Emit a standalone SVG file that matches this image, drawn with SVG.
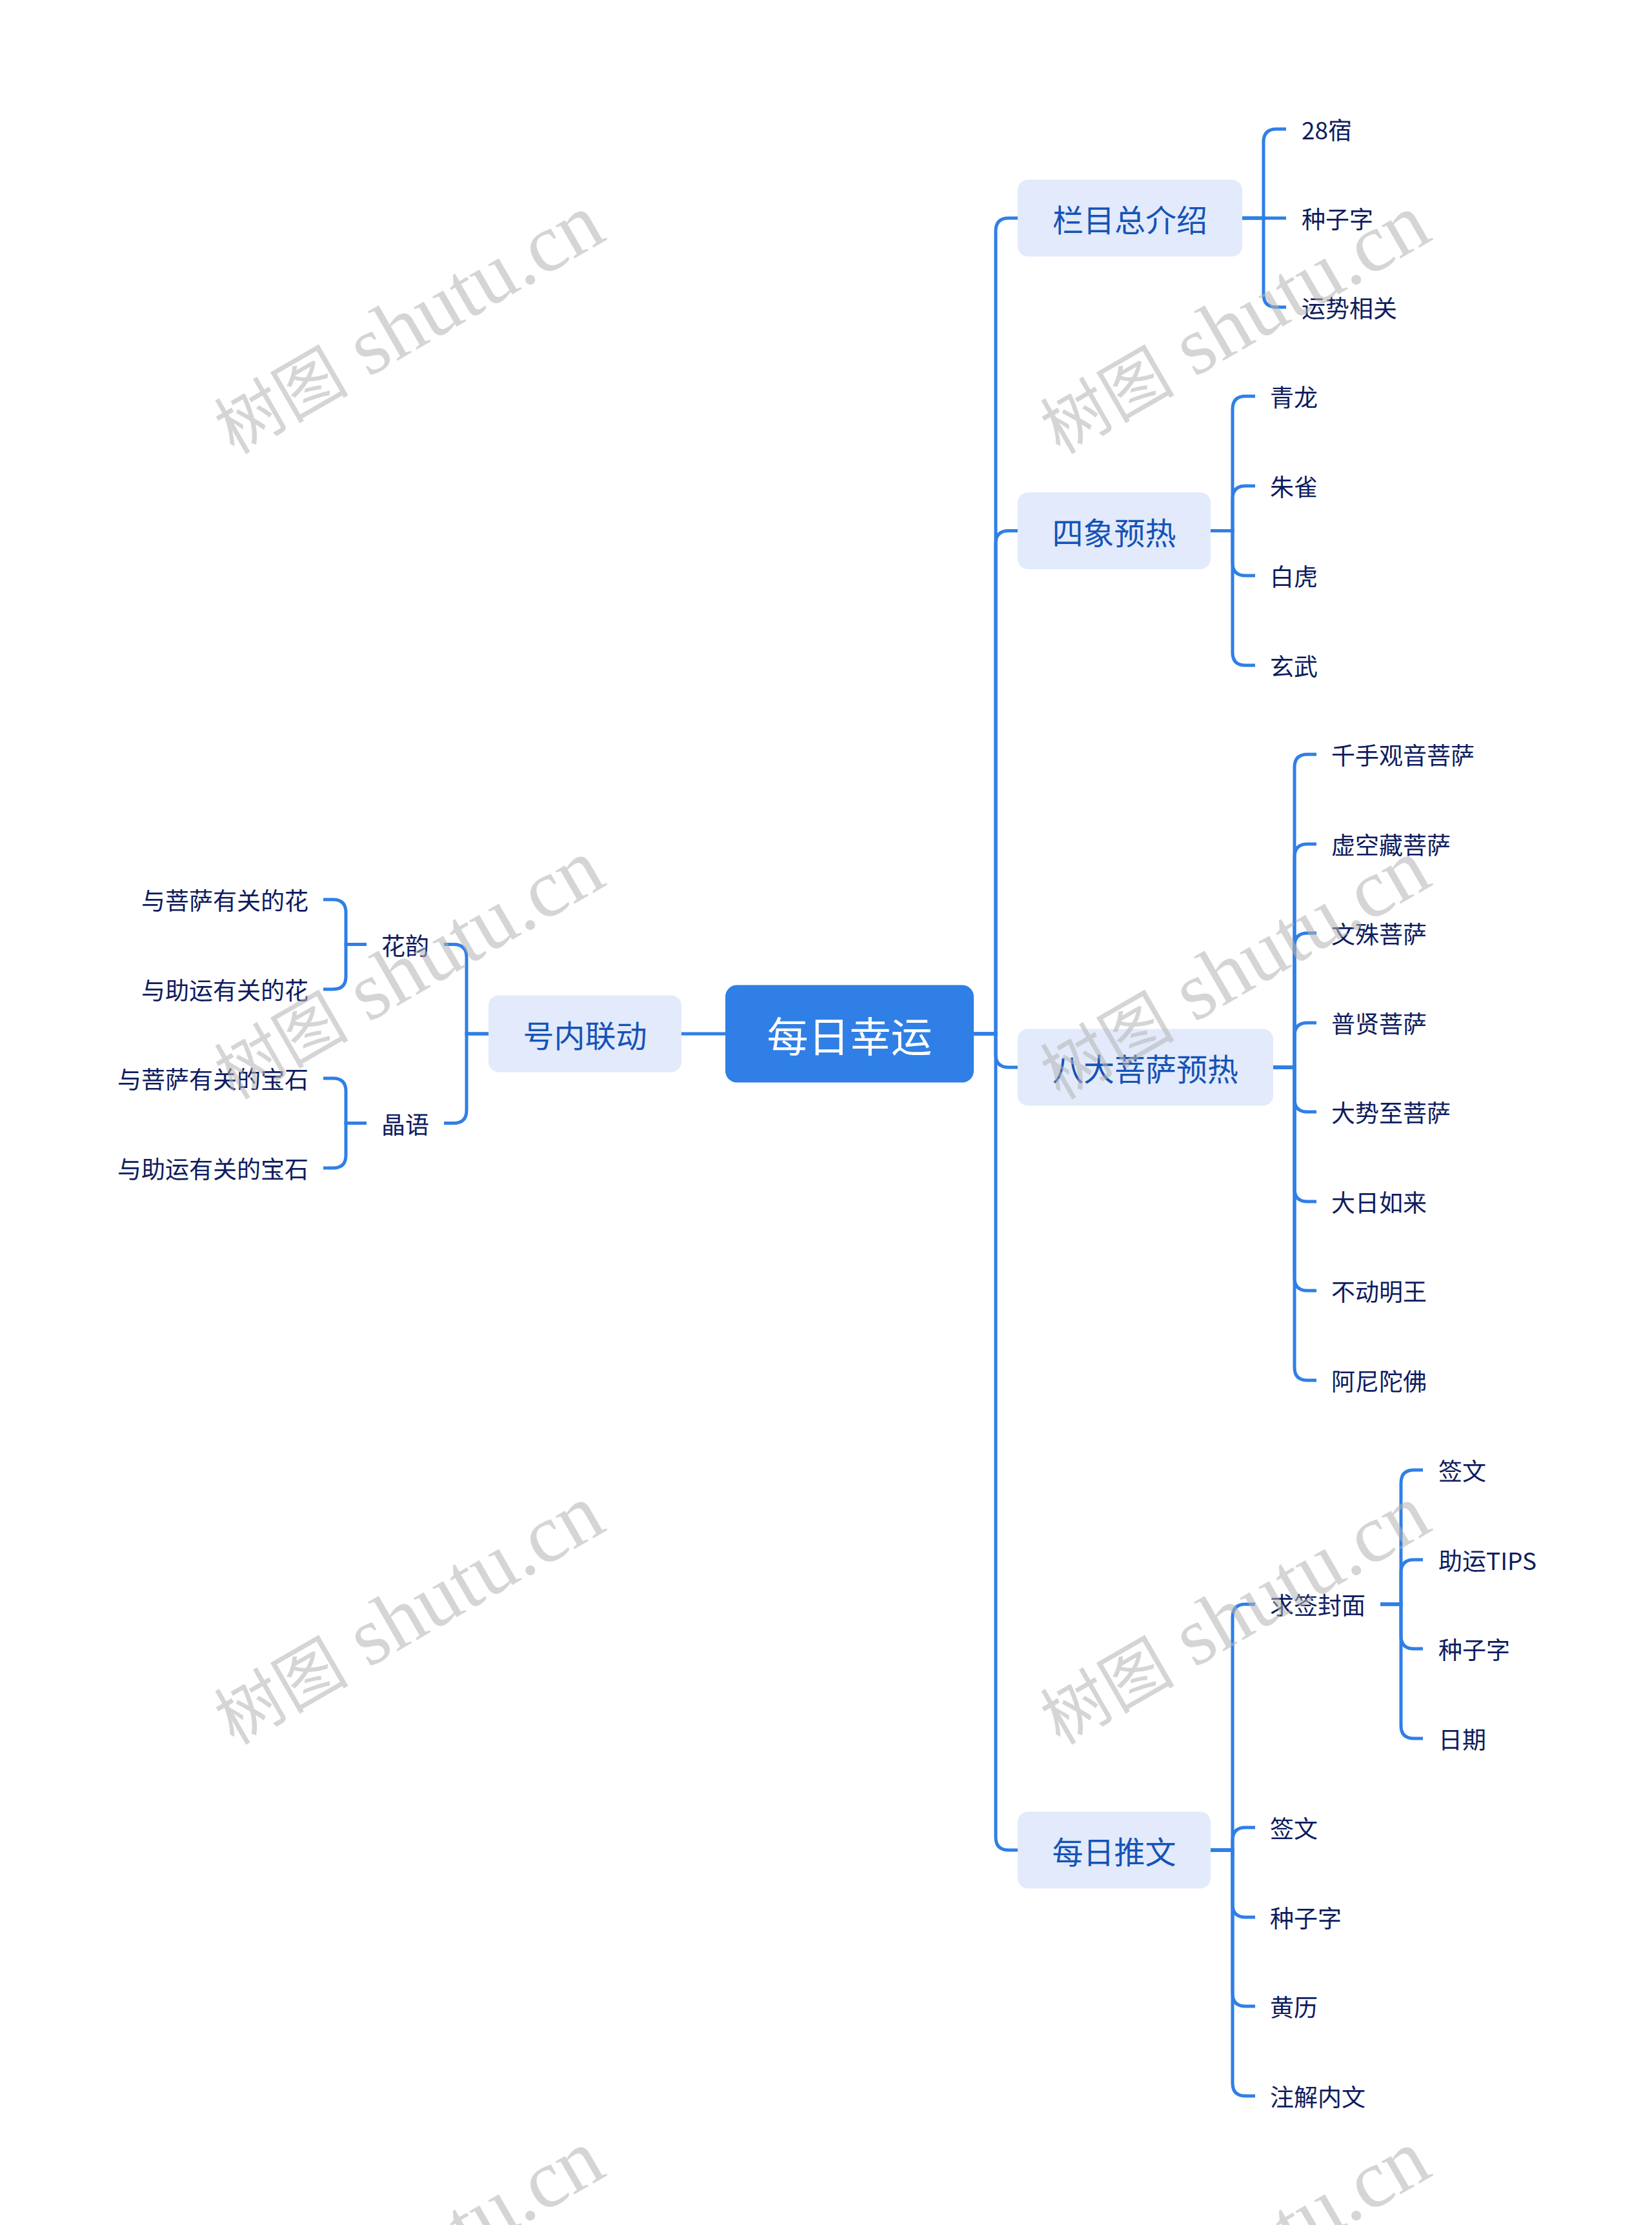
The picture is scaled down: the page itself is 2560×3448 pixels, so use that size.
<svg xmlns="http://www.w3.org/2000/svg" width="2560" height="3448" viewBox="0 0 2560 3448">
<style>
  .bg { fill: #ffffff; }
  .root rect { fill: #2F7FE6; }
  .root text { fill: #ffffff; font-size: 64px; }
  .l1 rect { fill: #E2EAFB; }
  .l1 text { fill: #1553B6; font-size: 48px; }
  .leaf text { fill: #0E1C5E; font-size: 37px; }
  text { font-family: "Noto Sans CJK SC", "Noto Sans", sans-serif; dominant-baseline: central; }
  .mid { text-anchor: middle; }
  .end { text-anchor: end; }
  #connectors path { fill: none; stroke: #2F7FE6; stroke-width: 5; }
  .wm { font-family: "Liberation Serif", "Noto Sans CJK SC", serif; font-size: 128px; fill: #b4b4b4; opacity: 0.55; text-anchor: end; dominant-baseline: alphabetic; }
  .wm .cjk { font-size: 104px; }
</style>
<rect class="bg" x="0" y="0" width="2560" height="3448"/>

<g id="connectors">
  <!-- root to level 1 -->
  <path d="M1509 1602 H1543 V358 Q1543 338 1563 338 H1577"/>
  <path d="M1509 1602 H1543 V842.5 Q1543 822.5 1563 822.5 H1577"/>
  <path d="M1509 1602 H1543 V1634 Q1543 1654 1563 1654 H1577"/>
  <path d="M1509 1602 H1543 V2847 Q1543 2867 1563 2867 H1577"/>
  <path d="M1124 1602 H1056"/>
  <!-- 栏目总介绍 -->
  <path d="M1925 338 H1958 V220 Q1958 200 1978 200 H1993"/>
  <path d="M1925 338 H1993"/>
  <path d="M1925 338 H1958 V456 Q1958 476 1978 476 H1993"/>
  <!-- 四象预热 -->
  <path d="M1876 822.5 H1910 V634 Q1910 614 1930 614 H1945"/>
  <path d="M1876 822.5 H1910 V773 Q1910 753 1930 753 H1945"/>
  <path d="M1876 822.5 H1910 V872 Q1910 892 1930 892 H1945"/>
  <path d="M1876 822.5 H1910 V1011 Q1910 1031 1930 1031 H1945"/>
  <!-- 八大菩萨预热 -->
  <path d="M1973 1654 H2006 V1189 Q2006 1169 2026 1169 H2040"/>
  <path d="M1973 1654 H2006 V1328 Q2006 1308 2026 1308 H2040"/>
  <path d="M1973 1654 H2006 V1466 Q2006 1446 2026 1446 H2040"/>
  <path d="M1973 1654 H2006 V1605 Q2006 1585 2026 1585 H2040"/>
  <path d="M1973 1654 H2006 V1703 Q2006 1723 2026 1723 H2040"/>
  <path d="M1973 1654 H2006 V1842 Q2006 1862 2026 1862 H2040"/>
  <path d="M1973 1654 H2006 V1980 Q2006 2000 2026 2000 H2040"/>
  <path d="M1973 1654 H2006 V2119 Q2006 2139 2026 2139 H2040"/>
  <!-- 每日推文 -->
  <path d="M1876 2867 H1910 V2506 Q1910 2486 1930 2486 H1945"/>
  <path d="M1876 2867 H1910 V2852 Q1910 2832 1930 2832 H1945"/>
  <path d="M1876 2867 H1910 V2951 Q1910 2971 1930 2971 H1945"/>
  <path d="M1876 2867 H1910 V3089 Q1910 3109 1930 3109 H1945"/>
  <path d="M1876 2867 H1910 V3228 Q1910 3248 1930 3248 H1945"/>
  <!-- 求签封面 -->
  <path d="M2139 2486 H2171 V2298 Q2171 2278 2191 2278 H2205"/>
  <path d="M2139 2486 H2171 V2437 Q2171 2417 2191 2417 H2205"/>
  <path d="M2139 2486 H2171 V2535 Q2171 2555 2191 2555 H2205"/>
  <path d="M2139 2486 H2171 V2674 Q2171 2694 2191 2694 H2205"/>
  <!-- 号内联动 -->
  <path d="M757 1602 H723 V1483.5 Q723 1463.5 703 1463.5 H688"/>
  <path d="M757 1602 H723 V1720.5 Q723 1740.5 703 1740.5 H688"/>
  <!-- 花韵 -->
  <path d="M568 1463.5 H536 V1414 Q536 1394 516 1394 H501"/>
  <path d="M568 1463.5 H536 V1513 Q536 1533 516 1533 H501"/>
  <!-- 晶语 -->
  <path d="M568 1740.5 H536 V1691 Q536 1671 516 1671 H501"/>
  <path d="M568 1740.5 H536 V1790 Q536 1810 516 1810 H501"/>
</g>

<g id="node-root" class="root">
  <rect x="1124" y="1526.5" width="385" height="151" rx="18"/>
  <text class="mid" x="1316.5" y="1602">每日幸运</text>
</g>

<g id="node-lanmu" class="l1">
  <rect x="1577" y="278.5" width="348" height="119" rx="16"/>
  <text class="mid" x="1751" y="338">栏目总介绍</text>
</g>
<g id="node-sixiang" class="l1">
  <rect x="1577" y="763" width="299" height="119" rx="16"/>
  <text class="mid" x="1726.5" y="822.5">四象预热</text>
</g>
<g id="node-bada" class="l1">
  <rect x="1577" y="1594.5" width="396" height="119" rx="16"/>
  <text class="mid" x="1775" y="1654">八大菩萨预热</text>
</g>
<g id="node-meiri" class="l1">
  <rect x="1577" y="2807.5" width="299" height="119" rx="16"/>
  <text class="mid" x="1726.5" y="2867">每日推文</text>
</g>
<g id="node-haonei" class="l1">
  <rect x="757" y="1542.5" width="299" height="119" rx="16"/>
  <text class="mid" x="906.5" y="1602">号内联动</text>
</g>

<g class="leaf">
  <g id="n-28su"><text x="2017" y="200">28宿</text></g>
  <g id="n-zzz1"><text x="2017" y="338">种子字</text></g>
  <g id="n-ysxg"><text x="2017" y="476">运势相关</text></g>

  <g id="n-qinglong"><text x="1968" y="614">青龙</text></g>
  <g id="n-zhuque"><text x="1968" y="753">朱雀</text></g>
  <g id="n-baihu"><text x="1968" y="892">白虎</text></g>
  <g id="n-xuanwu"><text x="1968" y="1031">玄武</text></g>

  <g id="n-qianshou"><text x="2063" y="1169">千手观音菩萨</text></g>
  <g id="n-xukong"><text x="2063" y="1308">虚空藏菩萨</text></g>
  <g id="n-wenshu"><text x="2063" y="1446">文殊菩萨</text></g>
  <g id="n-puxian"><text x="2063" y="1585">普贤菩萨</text></g>
  <g id="n-dashi"><text x="2063" y="1723">大势至菩萨</text></g>
  <g id="n-dari"><text x="2063" y="1862">大日如来</text></g>
  <g id="n-budong"><text x="2063" y="2000">不动明王</text></g>
  <g id="n-amituo"><text x="2063" y="2139">阿尼陀佛</text></g>

  <g id="n-qiuqian"><text x="1968" y="2486">求签封面</text></g>
  <g id="n-qianwen1"><text x="2229" y="2278">签文</text></g>
  <g id="n-tips"><text x="2229" y="2417">助运TIPS</text></g>
  <g id="n-zzz2"><text x="2229" y="2555">种子字</text></g>
  <g id="n-riqi"><text x="2229" y="2694">日期</text></g>

  <g id="n-qianwen2"><text x="1968" y="2832">签文</text></g>
  <g id="n-zzz3"><text x="1968" y="2971">种子字</text></g>
  <g id="n-huangli"><text x="1968" y="3109">黄历</text></g>
  <g id="n-zhujie"><text x="1968" y="3248">注解内文</text></g>

  <g id="n-huayun"><text class="end" x="665" y="1463.5">花韵</text></g>
  <g id="n-jingyu"><text class="end" x="665" y="1740.5">晶语</text></g>
  <g id="n-hua1"><text class="end" x="478" y="1394">与菩萨有关的花</text></g>
  <g id="n-hua2"><text class="end" x="478" y="1533">与助运有关的花</text></g>
  <g id="n-shi1"><text class="end" x="478" y="1671">与菩萨有关的宝石</text></g>
  <g id="n-shi2"><text class="end" x="478" y="1810">与助运有关的宝石</text></g>
</g>

<g id="watermarks">
  <text class="wm" x="943" y="370" transform="rotate(-30 943 370)"><tspan class="cjk">树图</tspan> shutu.cn</text>
  <text class="wm" x="2223" y="370" transform="rotate(-30 2223 370)"><tspan class="cjk">树图</tspan> shutu.cn</text>
  <text class="wm" x="943" y="1370" transform="rotate(-30 943 1370)"><tspan class="cjk">树图</tspan> shutu.cn</text>
  <text class="wm" x="2223" y="1370" transform="rotate(-30 2223 1370)"><tspan class="cjk">树图</tspan> shutu.cn</text>
  <text class="wm" x="943" y="2370" transform="rotate(-30 943 2370)"><tspan class="cjk">树图</tspan> shutu.cn</text>
  <text class="wm" x="2223" y="2370" transform="rotate(-30 2223 2370)"><tspan class="cjk">树图</tspan> shutu.cn</text>
  <text class="wm" x="943" y="3370" transform="rotate(-30 943 3370)"><tspan class="cjk">树图</tspan> shutu.cn</text>
  <text class="wm" x="2223" y="3370" transform="rotate(-30 2223 3370)"><tspan class="cjk">树图</tspan> shutu.cn</text>
</g>
</svg>
